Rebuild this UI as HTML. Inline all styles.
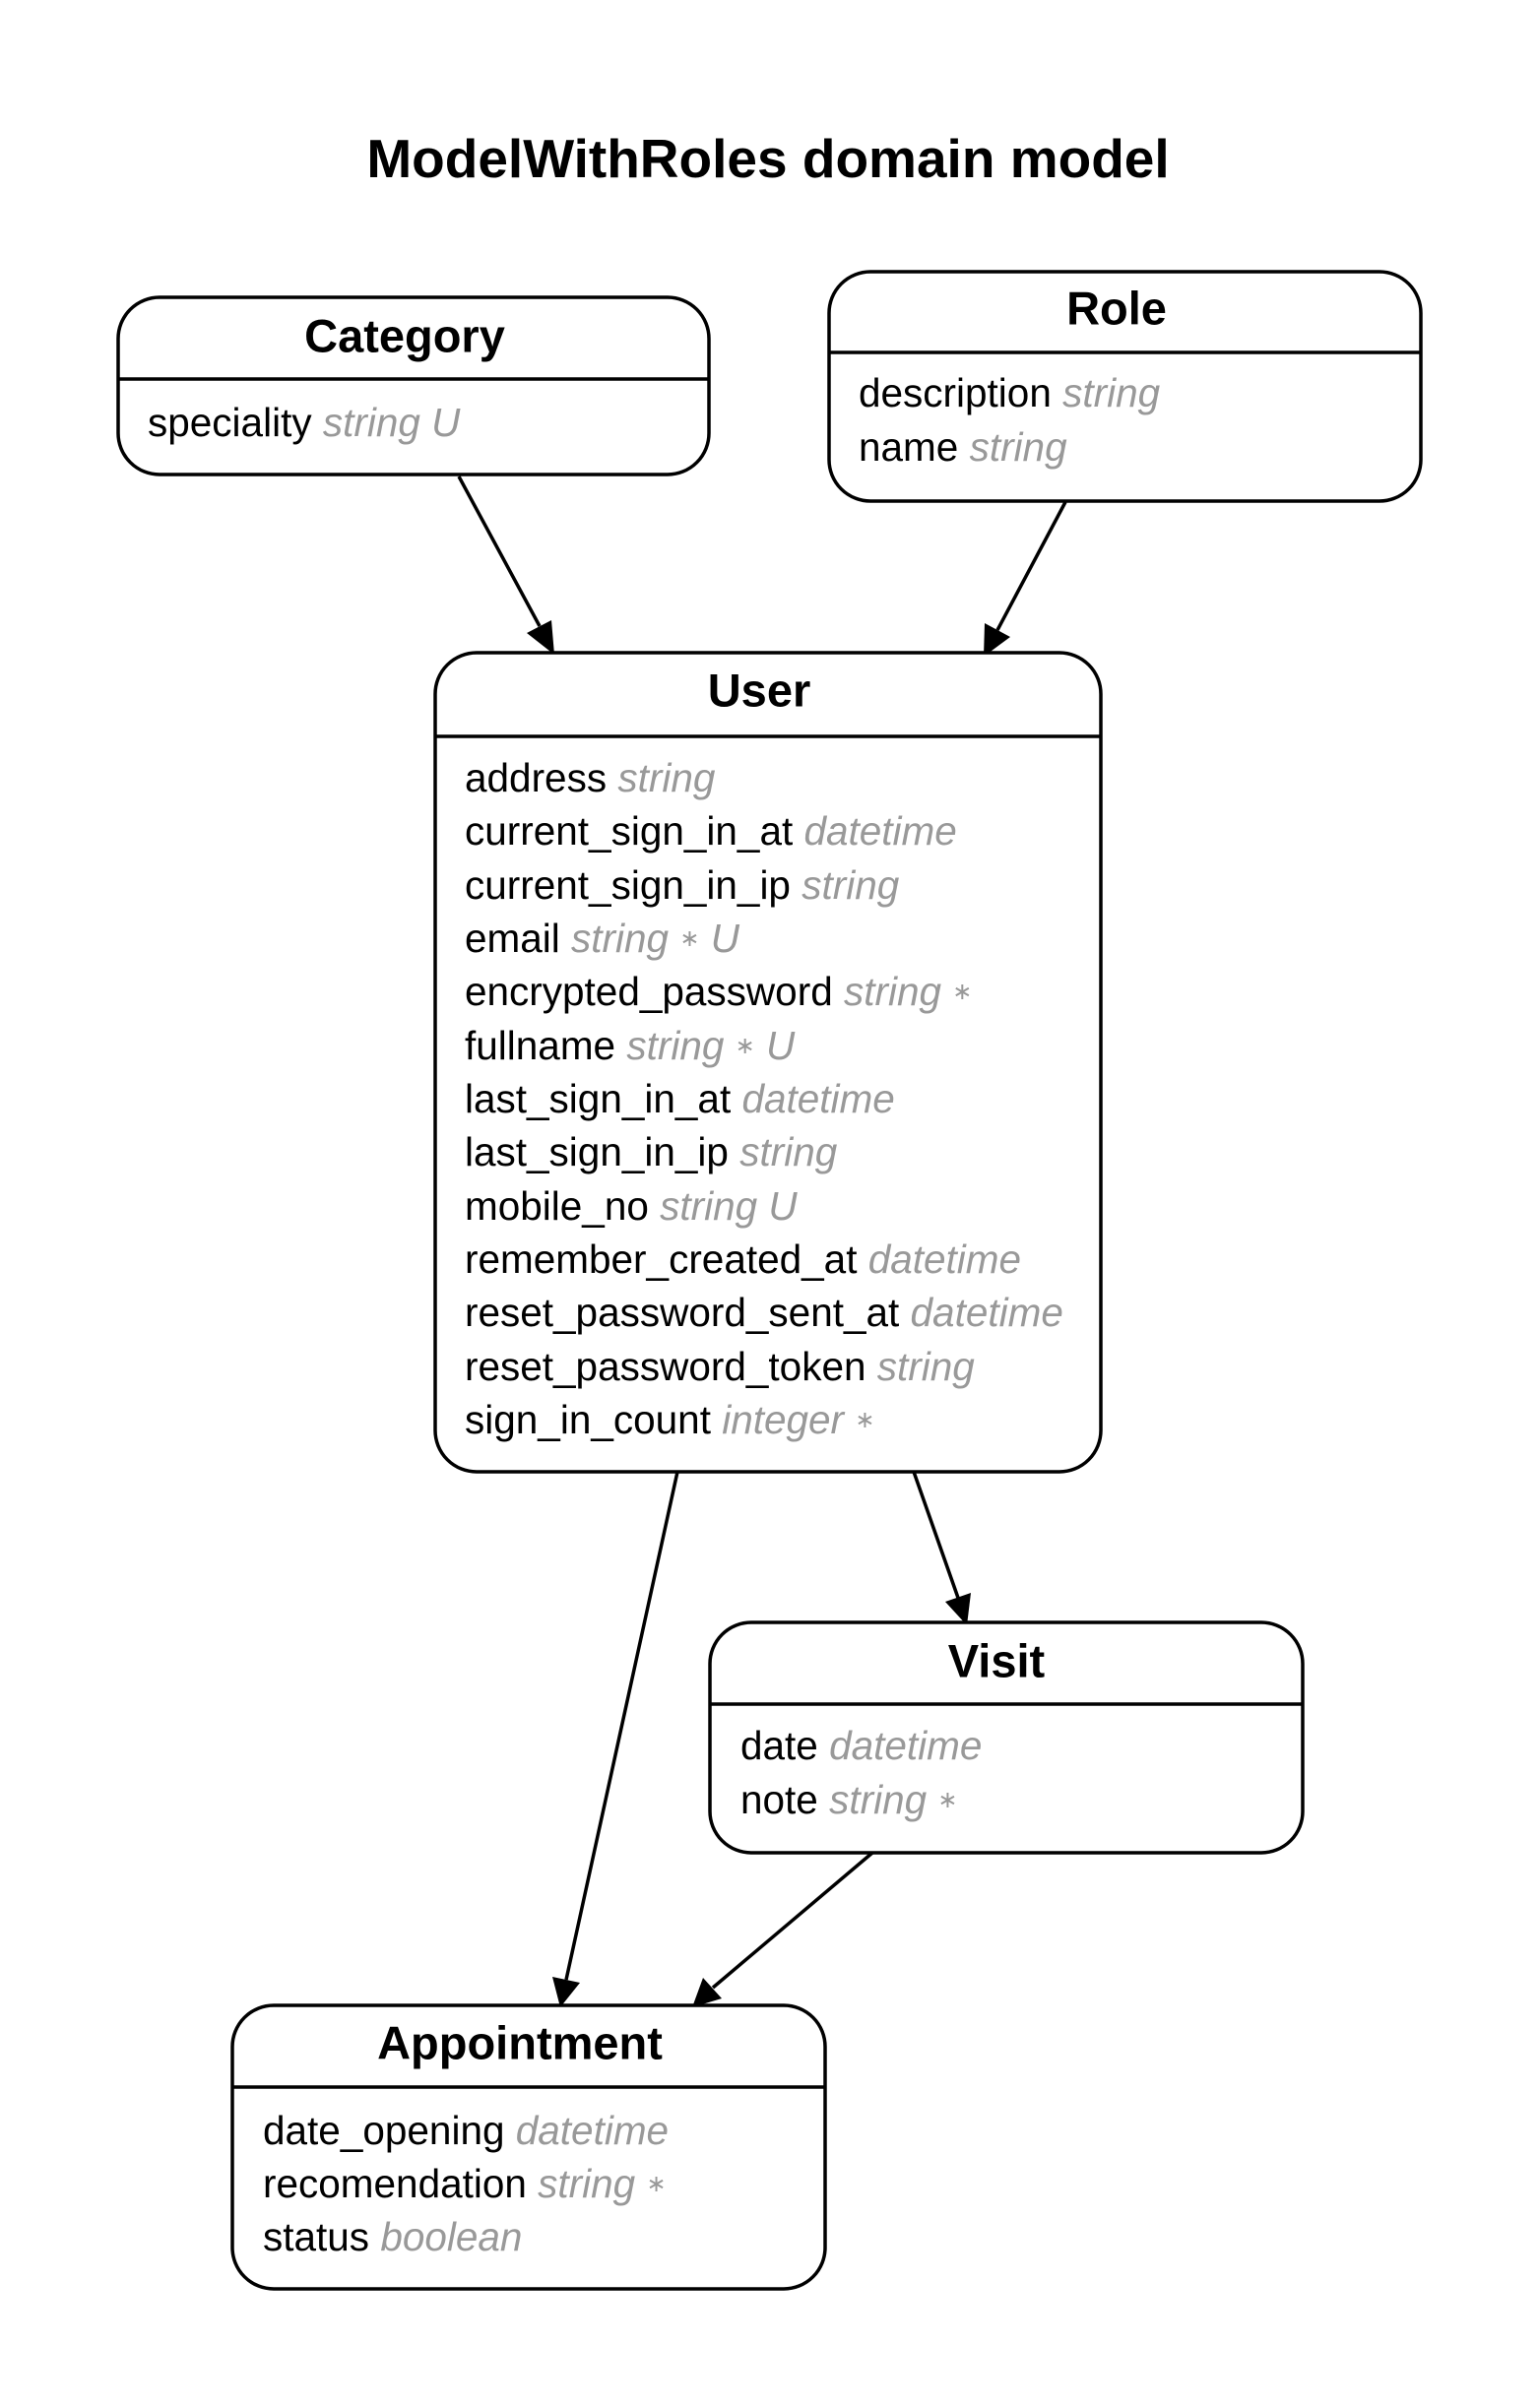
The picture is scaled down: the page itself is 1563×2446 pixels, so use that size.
<!DOCTYPE html>
<html><head><meta charset="utf-8"><style>
html,body{margin:0;padding:0;background:#fff;}
svg{display:block;}
.t{font-family:"Liberation Sans",sans-serif;font-weight:bold;font-size:47px;fill:#000;}
.a{font-family:"Liberation Sans",sans-serif;font-size:40.5px;fill:#000;}
.g{fill:#999;font-style:italic;}
.s{fill:#999;font-size:24px;}
.b{fill:#fff;stroke:#000;stroke-width:3.5;}
.l{stroke:#000;stroke-width:3.5;fill:none;}
</style></head><body>
<svg width="1563" height="2446" viewBox="0 0 1563 2446" xmlns="http://www.w3.org/2000/svg">
<text x="780" y="161" text-anchor="middle" dominant-baseline="central" class="t" style="font-size:55px">ModelWithRoles domain model</text>

<g>
<line class="l" x1="466" y1="484" x2="548" y2="636"/><path d="M535,643 L563,665 L560,630 z"/>
<line class="l" x1="1082" y1="510" x2="1013" y2="640"/><path d="M1000,633 L999,667 L1026,647 z"/>
<line class="l" x1="688" y1="1495" x2="575" y2="2011"/><path d="M561,2008 L569,2039 L589,2014 z"/>
<line class="l" x1="928" y1="1495" x2="973" y2="1623"/><path d="M960,1627 L982,1651 L986,1618 z"/>
<line class="l" x1="886" y1="1882" x2="724" y2="2019"/><path d="M714,2009 L703,2039 L733,2030 z"/>
</g>

<rect class="b" x="120" y="302" width="600" height="180" rx="42"/>
<line class="l" x1="120" y1="385" x2="720" y2="385"/>
<text x="411" y="341" text-anchor="middle" dominant-baseline="central" class="t">Category</text>
<text x="150" y="429" dominant-baseline="central" class="a">speciality <tspan class="g">string U</tspan></text>

<rect class="b" x="842" y="276" width="601" height="233" rx="42"/>
<line class="l" x1="842" y1="358" x2="1443" y2="358"/>
<text x="1134" y="313" text-anchor="middle" dominant-baseline="central" class="t">Role</text>
<text x="872" y="399" dominant-baseline="central" class="a">description <tspan class="g">string</tspan></text>
<text x="872" y="454" dominant-baseline="central" class="a">name <tspan class="g">string</tspan></text>

<rect class="b" x="442" y="663" width="676" height="832" rx="42"/>
<line class="l" x1="442" y1="748" x2="1118" y2="748"/>
<text x="771" y="701" text-anchor="middle" dominant-baseline="central" class="t">User</text>
<g class="a">
<text x="472" y="790" dominant-baseline="central">address <tspan class="g">string</tspan></text>
<text x="472" y="844" dominant-baseline="central">current_sign_in_at <tspan class="g">datetime</tspan></text>
<text x="472" y="899" dominant-baseline="central">current_sign_in_ip <tspan class="g">string</tspan></text>
<text x="472" y="953" dominant-baseline="central">email <tspan class="g">string</tspan> <tspan class="s">∗</tspan>  <tspan class="g">U</tspan></text>
<text x="472" y="1007" dominant-baseline="central">encrypted_password <tspan class="g">string</tspan> <tspan class="s">∗</tspan></text>
<text x="472" y="1062" dominant-baseline="central">fullname <tspan class="g">string</tspan> <tspan class="s">∗</tspan>  <tspan class="g">U</tspan></text>
<text x="472" y="1116" dominant-baseline="central">last_sign_in_at <tspan class="g">datetime</tspan></text>
<text x="472" y="1170" dominant-baseline="central">last_sign_in_ip <tspan class="g">string</tspan></text>
<text x="472" y="1225" dominant-baseline="central">mobile_no <tspan class="g">string U</tspan></text>
<text x="472" y="1279" dominant-baseline="central">remember_created_at <tspan class="g">datetime</tspan></text>
<text x="472" y="1333" dominant-baseline="central">reset_password_sent_at <tspan class="g">datetime</tspan></text>
<text x="472" y="1388" dominant-baseline="central">reset_password_token <tspan class="g">string</tspan></text>
<text x="472" y="1442" dominant-baseline="central">sign_in_count <tspan class="g">integer</tspan> <tspan class="s">∗</tspan></text>
</g>

<rect class="b" x="721" y="1648" width="602" height="234" rx="42"/>
<line class="l" x1="721" y1="1731" x2="1323" y2="1731"/>
<text x="1012" y="1687" text-anchor="middle" dominant-baseline="central" class="t">Visit</text>
<text x="752" y="1773" dominant-baseline="central" class="a">date <tspan class="g">datetime</tspan></text>
<text x="752" y="1828" dominant-baseline="central" class="a">note <tspan class="g">string</tspan> <tspan class="s">∗</tspan></text>

<rect class="b" x="236" y="2037" width="602" height="288" rx="42"/>
<line class="l" x1="236" y1="2120" x2="838" y2="2120"/>
<text x="528" y="2075" text-anchor="middle" dominant-baseline="central" class="t">Appointment</text>
<text x="267" y="2164" dominant-baseline="central" class="a">date_opening <tspan class="g">datetime</tspan></text>
<text x="267" y="2218" dominant-baseline="central" class="a">recomendation <tspan class="g">string</tspan> <tspan class="s">∗</tspan></text>
<text x="267" y="2272" dominant-baseline="central" class="a">status <tspan class="g">boolean</tspan></text>
</svg>
</body></html>
